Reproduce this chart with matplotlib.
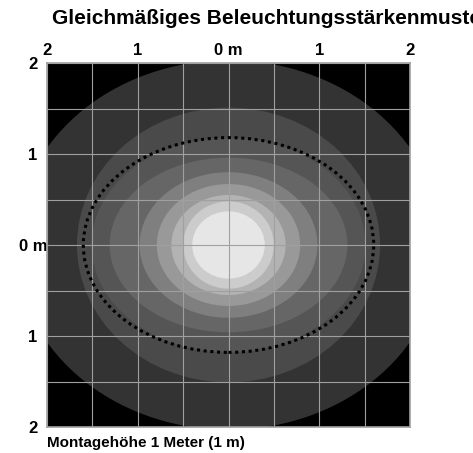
import matplotlib
matplotlib.use("Agg")
import matplotlib.pyplot as plt
from matplotlib.patches import Ellipse
import numpy as np

# Data: iso-illuminance bands (semi-axes in metres), outermost first
semi_x = [2.35, 1.67, 1.51, 1.31, 0.98, 0.79, 0.63, 0.50, 0.40]
semi_y = [2.03, 1.51, 1.18, 0.96, 0.80, 0.67, 0.55, 0.48, 0.37]
# Dotted reference contour
dotted_semi = (1.60, 1.18)

tick_pos = [-2, -1, 0, 1, 2]
x_labels = ["2", "1", "0 m", "1", "2"]
y_labels = ["2", "1", "0 m", "1", "2"]

title = "Gleichmäßiges Beleuchtungsstärkenmuster"
footer = "Montagehöhe 1 Meter (1 m)"

band_colors = ["#333333", "#4a4a4a", "#555555", "#666666", "#7f7f7f",
               "#999999", "#b3b3b3", "#cccccc", "#e6e6e6"]

plt.rcParams['font.family'] = ['Liberation Sans', 'DejaVu Sans']

fig = plt.figure(figsize=(4.73, 4.53), dpi=100)
ax = fig.add_axes([47/473, 1-427/453, 363/473, 364/453])
ax.set_facecolor("black")
ax.set_xlim(-2, 2)
ax.set_ylim(-2, 2)

for a, b, c in zip(semi_x, semi_y, band_colors):
    ax.add_patch(Ellipse((0, 0), 2*a, 2*b, facecolor=c, edgecolor='none', zorder=1))

ax.add_patch(Ellipse((0, 0), 2*dotted_semi[0], 2*dotted_semi[1], facecolor='none',
                     edgecolor='black', lw=2.2, linestyle=(0, (1, 1.2)), zorder=3,
                     capstyle='butt'))

grid = np.arange(-2, 2.01, 0.5)
for g in grid:
    ax.axvline(g, color='#a0a0a0', lw=0.8, zorder=2)
    ax.axhline(g, color='#a0a0a0', lw=0.8, zorder=2)

for s in ax.spines.values():
    s.set_color('#a0a0a0')
    s.set_linewidth(1.2)

ax.xaxis.tick_top()
ax.set_xticks(tick_pos)
ax.set_xticklabels(x_labels, fontsize=12, fontweight='bold')
ax.set_yticks(tick_pos)
ax.set_yticklabels(y_labels, fontsize=12, fontweight='bold')
ax.tick_params(axis='both', length=0)
ax.tick_params(axis='x', pad=3.5)
ax.tick_params(axis='y', pad=10)
for lbl in ax.get_yticklabels():
    lbl.set_horizontalalignment('center')

fig.text(52/473, 1-24.5/453, title, fontsize=15, fontweight='bold', ha='left', va='baseline')
fig.text(47/473, 1-447.5/453, footer, fontsize=11, fontweight='bold', ha='left', va='baseline')

fig.savefig("out.png", dpi=100)
